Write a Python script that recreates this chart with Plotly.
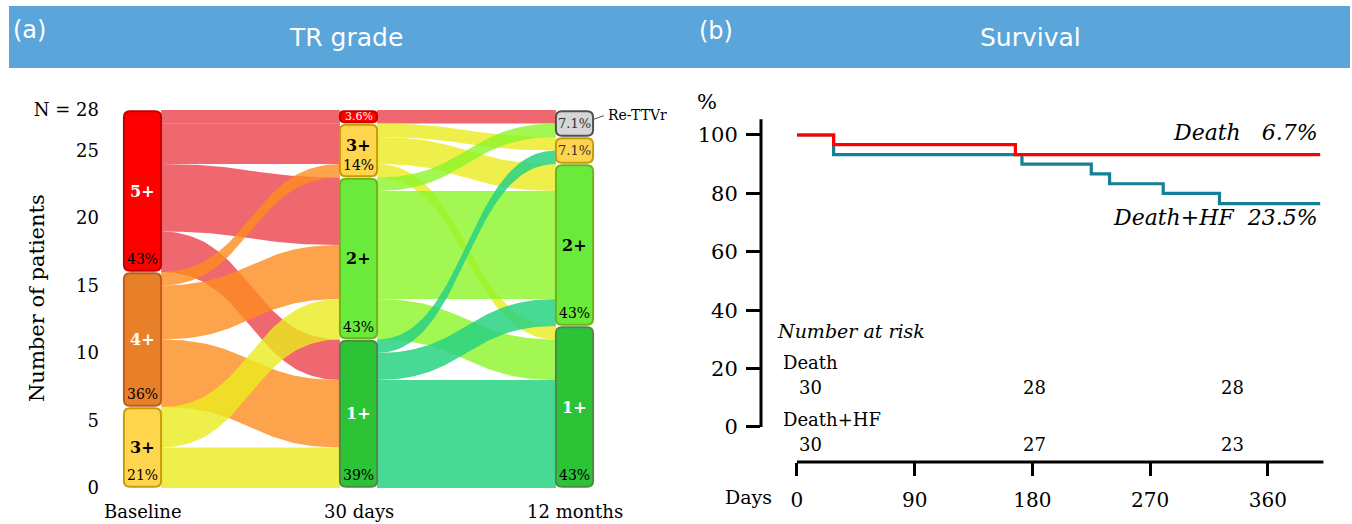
import numpy as np
import plotly.graph_objects as go

# ---------------- data ----------------
stages = ["Baseline", "30 days", "12 months"]
n_total = 28

baseline_grades = ["5+", "4+", "3+"]
baseline_counts = [12, 10, 6]
day30_grades = ["5+", "3+", "2+", "1+"]
day30_counts = [1, 4, 12, 11]
month12_grades = ["Re-TTVr", "3+", "2+", "1+"]
month12_counts = [2, 2, 12, 12]

flow1_source = ["5+", "5+", "5+", "5+", "4+", "4+", "4+", "3+", "3+"]
flow1_target = ["5+", "3+", "2+", "1+", "3+", "2+", "1+", "2+", "1+"]
flow1_value = [1, 3, 5, 3, 1, 4, 5, 3, 3]

flow2_source = ["5+", "3+", "3+", "3+", "2+", "2+", "2+", "1+", "1+", "1+"]
flow2_target = ["Re-TTVr", "3+", "2+", "1+", "Re-TTVr", "2+", "1+", "3+", "2+", "1+"]
flow2_value = [1, 1, 2, 1, 1, 8, 3, 1, 2, 8]

patient_ticks = [0, 5, 10, 15, 20, 25, 28]
patient_ticktext = ["0", "5", "10", "15", "20", "25", "N = 28"]

death_days = [0, 28, 167, 400]
death_surv = [100, 96.7, 93.3, 93.3]
dhf_days = [0, 28, 172, 225, 239, 280, 323, 400]
dhf_surv = [100, 93.3, 90.0, 86.7, 83.3, 80.0, 76.5, 76.5]

surv_ticks = [0, 20, 40, 60, 80, 100]
day_ticks = [0, 90, 180, 270, 360]

risk_rows = ["Death", "Death+HF"]
risk_death = [30, 28, 28]
risk_dhf = [30, 27, 23]
risk_pos = [0, 171, 323]

# ---------------- style ----------------
W, H = 1352, 524
SERIF = "DejaVu Serif"
SANS = "DejaVu Sans"
HEADER = "#5aa5da"

grade_fill = {"5+": "#ff0000", "4+": "#e8802a", "3+": "#ffd54d", "2+": "#6aeb3b",
              "1+": "#2cc337", "Re-TTVr": "#d6d6d6"}
grade_line = {"5+": "#c40000", "4+": "#c25a18", "3+": "#c89b0a", "2+": "#6fb21e",
              "1+": "#4f8a45", "Re-TTVr": "#505050"}
grade_text = {"5+": "white", "4+": "white", "3+": "black", "2+": "black",
              "1+": "white", "Re-TTVr": "#333333"}
link_color = {"5+": "rgba(232,40,50,0.70)", "4+": "rgba(252,140,30,0.80)",
              "3+": "rgba(235,235,30,0.80)", "2+": "rgba(140,245,40,0.80)",
              "1+": "rgba(40,210,130,0.85)"}

# left panel pixel geometry
L_X0, L_X1 = 105, 680
STAGE0_PX, STAGE_STEP = 142.5, 216.0
L_YB, L_YT = 501.5, 96.5
Y_RANGE = [-1.0, 29.0]
PX_PER_UNIT = (L_YB - L_YT) / (Y_RANGE[1] - Y_RANGE[0])
HW = 0.086
INSET = 0.1

# right panel pixel geometry
R_X0, R_X1 = 761, 1330
R_YB, R_YT = 462, 110
X2_RANGE = [-27.5, 407.5]
Y2_RANGE = [-12, 108.56]

fig = go.Figure()

stage_nodes = [(baseline_grades, baseline_counts), (day30_grades, day30_counts),
               (month12_grades, month12_counts)]
flows = [(flow1_source, flow1_target, flow1_value), (flow2_source, flow2_target, flow2_value)]


def node_extents(grades, counts):
    ext = {}
    top = float(sum(counts))
    for g, c in zip(grades, counts):
        ext[g] = (top - c, top)
        top -= c
    return ext


extents = [node_extents(g, c) for g, c in stage_nodes]

# ---------------- flows ----------------
t = np.linspace(0, 1, 60)
sm = 3 * t ** 2 - 2 * t ** 3
for s_idx, (src, tgt, val) in enumerate(flows):
    sg = stage_nodes[s_idx][0]
    tg = stage_nodes[s_idx + 1][0]
    out_cur = {g: extents[s_idx][g][1] for g in sg}
    in_cur = {g: extents[s_idx + 1][g][1] for g in tg}
    seg = {}
    order_out = sorted(range(len(val)), key=lambda k: (sg.index(src[k]), tg.index(tgt[k])))
    for k in order_out:
        y = out_cur[src[k]]
        out_cur[src[k]] -= val[k]
        seg[k] = [y, y - val[k]]
    order_in = sorted(range(len(val)), key=lambda k: (tg.index(tgt[k]), sg.index(src[k])))
    for k in order_in:
        y = in_cur[tgt[k]]
        in_cur[tgt[k]] -= val[k]
        seg[k] += [y, y - val[k]]
    x0 = s_idx + HW
    x1 = s_idx + 1 - HW
    xm = (x0 + x1) / 2
    xs = x0 * (1 - t) ** 3 + 3 * xm * (1 - t) ** 2 * t + 3 * xm * (1 - t) * t ** 2 + x1 * t ** 3
    for k in order_out:
        st, sb, tt, tb = seg[k]
        top = st + (tt - st) * sm
        bot = sb + (tb - sb) * sm
        fig.add_trace(go.Scatter(
            x=np.concatenate([xs, xs[::-1]]), y=np.concatenate([top, bot[::-1]]),
            fill="toself", fillcolor=link_color[src[k]], mode="lines",
            line=dict(width=0, color="rgba(0,0,0,0)"), hoverinfo="skip",
            showlegend=False, xaxis="x", yaxis="y"))

# ---------------- nodes ----------------
shapes = []
annotations = []


def ann(**kw):
    kw.setdefault("showarrow", False)
    kw.setdefault("xanchor", "center")
    kw.setdefault("yanchor", "middle")
    annotations.append(kw)


def rounded_path(x0, x1, y0, y1, r_px):
    rx = r_px / STAGE_STEP
    ry = r_px / PX_PER_UNIT
    return (f"M {x0 + rx},{y0} L {x1 - rx},{y0} Q {x1},{y0} {x1},{y0 + ry} "
            f"L {x1},{y1 - ry} Q {x1},{y1} {x1 - rx},{y1} L {x0 + rx},{y1} "
            f"Q {x0},{y1} {x0},{y1 - ry} L {x0},{y0 + ry} Q {x0},{y0} {x0 + rx},{y0} Z")


def pct_text(c):
    p = c / n_total * 100
    return f"{p:.1f}%" if p < 10 else f"{p:.0f}%"


for s_idx, (grades, counts) in enumerate(stage_nodes):
    for g, c in zip(grades, counts):
        yb, yt = extents[s_idx][g]
        y0, y1 = yb + INSET, yt - INSET
        h_px = (y1 - y0) * PX_PER_UNIT
        r = min(6.0, h_px / 2 - 1)
        shapes.append(dict(type="path", xref="x", yref="y",
                           path=rounded_path(s_idx - HW, s_idx + HW, y0, y1, r),
                           fillcolor=grade_fill[g], line=dict(color=grade_line[g], width=2),
                           layer="above"))
        if c >= 4:
            gy = (yb + yt) / 2 if c >= 6 else yt - 1.65
            ann(x=s_idx, y=gy, xref="x", yref="y", text=f"<b>{g}</b>",
                font=dict(family=SERIF, size=16, color=grade_text[g]))
            ann(x=s_idx, y=yb + 0.95, xref="x", yref="y", text=pct_text(c),
                font=dict(family=SERIF, size=14, color="black"))
        else:
            small = c == 1
            col = "white" if g == "5+" else "#333333"
            ann(x=s_idx, y=(yb + yt) / 2, xref="x", yref="y", text=pct_text(c),
                font=dict(family=SERIF, size=11 if small else 13, color=col))

# Re-TTVr label
ryb, ryt = extents[2]["Re-TTVr"]
shapes.append(dict(type="line", xref="x", yref="y", x0=2 + HW, y0=ryt - 0.7,
                   x1=2 + HW + 0.05, y1=ryt - 0.42, line=dict(color="#555555", width=1)))
ann(x=2 + HW + 0.058, y=ryt - 0.35, xref="x", yref="y", text="Re-TTVr", xanchor="left",
    font=dict(family=SERIF, size=14, color="black"))

# stage labels (below the plot area -> paper y)
for i, s in enumerate(stages):
    ann(x=i, y=1 - 511 / H, xref="x", yref="paper", text=s,
        font=dict(family=SERIF, size=18, color="black"))

ann(x=37 / W, y=1 - 298 / H, xref="paper", yref="paper", text="Number of patients",
    textangle=-90, font=dict(family=SERIF, size=21, color="black"))

# ---------------- survival ----------------
fig.add_trace(go.Scatter(x=dhf_days, y=dhf_surv, mode="lines",
                         line=dict(shape="hv", color="#167f98", width=3.2),
                         hoverinfo="skip", showlegend=False, xaxis="x2", yaxis="y2"))
fig.add_trace(go.Scatter(x=death_days, y=death_surv, mode="lines",
                         line=dict(shape="hv", color="#ff0000", width=3.2),
                         hoverinfo="skip", showlegend=False, xaxis="x2", yaxis="y2"))

death_pct = 100 - death_surv[-1]
dhf_pct = 100 - dhf_surv[-1]
ann(x=400, y=101.0, xref="x2", yref="y2", xanchor="right",
    text=f"<i>Death\u00a0\u00a0\u00a0{death_pct:.1f}%</i>",
    font=dict(family=SERIF, size=22, color="black"))
ann(x=400, y=71.6, xref="x2", yref="y2", xanchor="right",
    text=f"<i>Death+HF\u00a0\u00a0{dhf_pct:.1f}%</i>",
    font=dict(family=SERIF, size=22, color="black"))

ann(x=-17, y=33.0, xref="x2", yref="y2", xanchor="left", text="<i>Number at risk</i>",
    font=dict(family=SERIF, size=19, color="black"))
row_y = [(22.0, 13.5), (2.4, -5.9)]
for (ly, ny), name, vals in zip(row_y, risk_rows, [risk_death, risk_dhf]):
    ann(x=-12, y=ly, xref="x2", yref="y2", xanchor="left", text=name,
        font=dict(family=SERIF, size=18, color="black"))
    for xp, v in zip(risk_pos, vals):
        ann(x=xp, y=ny, xref="x2", yref="y2", xanchor="left", text=str(v),
            font=dict(family=SERIF, size=18, color="black"))

ann(x=707 / W, y=1 - 102 / H, xref="paper", yref="paper", text="%",
    font=dict(family=SERIF, size=21, color="black"))
ann(x=748 / W, y=1 - 497 / H, xref="paper", yref="paper", text="Days",
    font=dict(family=SERIF, size=19, color="black"))

# axis lines (detached)
shapes.append(dict(type="line", xref="x2 domain", yref="y2", x0=0, x1=0, y0=0, y1=105.4,
                   line=dict(color="black", width=3)))
shapes.append(dict(type="line", xref="x2", yref="y2 domain", x0=0, x1=402.5, y0=0, y1=0,
                   line=dict(color="black", width=3)))

# ---------------- header ----------------
shapes.append(dict(type="rect", xref="paper", yref="paper", x0=9 / W, x1=1350 / W,
                   y0=1 - 68 / H, y1=1 - 6 / H, fillcolor=HEADER, line=dict(width=0),
                   layer="below"))
for txt, xp, yp, anchor, size in [("(a)", 11, 30, "left", 24), ("TR grade", 346, 38, "center", 25),
                                  ("(b)", 697, 31, "left", 24), ("Survival", 1030, 38, "center", 25)]:
    ann(x=xp / W, y=1 - yp / H, xref="paper", yref="paper", text=txt, xanchor=anchor,
        font=dict(family=SANS, size=size, color="white"))

fig.update_layout(
    width=W, height=H, margin=dict(l=0, r=0, t=0, b=0),
    paper_bgcolor="white", plot_bgcolor="rgba(0,0,0,0)",
    showlegend=False, shapes=shapes, annotations=annotations,
    xaxis=dict(domain=[L_X0 / W, L_X1 / W],
               range=[(L_X0 - STAGE0_PX) / STAGE_STEP, (L_X1 - STAGE0_PX) / STAGE_STEP],
               visible=False, fixedrange=True),
    yaxis=dict(domain=[1 - L_YB / H, 1 - L_YT / H], range=Y_RANGE, anchor="x",
               tickvals=patient_ticks, ticktext=patient_ticktext, showgrid=False,
               zeroline=False, showline=False, ticks="", ticklabelstandoff=5,
               tickfont=dict(family=SERIF, size=18, color="black")),
    xaxis2=dict(domain=[R_X0 / W, R_X1 / W], range=X2_RANGE, anchor="y2",
                tickvals=day_ticks, showgrid=False, zeroline=False, showline=False,
                ticks="outside", ticklen=13, tickwidth=3, tickcolor="black",
                ticklabelstandoff=7, tickfont=dict(family=SERIF, size=20, color="black")),
    yaxis2=dict(domain=[1 - R_YB / H, 1 - R_YT / H], range=Y2_RANGE, anchor="x2",
                tickvals=surv_ticks, showgrid=False, zeroline=False, showline=False,
                ticks="outside", ticklen=14, tickwidth=3, tickcolor="black",
                ticklabelstandoff=4, tickfont=dict(family=SERIF, size=21, color="black")),
)

fig.write_html("out.html", config={"displayModeBar": False},
               post_script="document.body.style.margin='0px';")
